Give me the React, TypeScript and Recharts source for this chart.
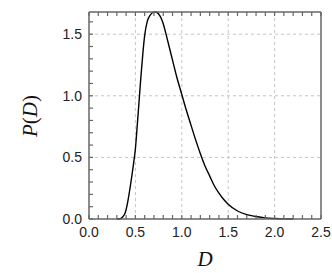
import { LineChart, Line, XAxis, YAxis, ReferenceLine } from 'recharts'

const dValues = [0.3, 0.33, 0.36, 0.39, 0.42, 0.45, 0.48, 0.5, 0.52, 0.54, 0.56, 0.58, 0.6, 0.63, 0.66, 0.69, 0.72, 0.75, 0.78, 0.8, 0.83, 0.87, 0.9, 0.95, 1.0, 1.05, 1.1, 1.15, 1.2, 1.25, 1.3, 1.35, 1.4, 1.45, 1.5, 1.6, 1.7, 1.8, 1.9, 2.0, 2.1, 2.2]
const pValues = [0, 0.002, 0.015, 0.05, 0.15, 0.29, 0.45, 0.57, 0.76, 0.96, 1.16, 1.34, 1.49, 1.61, 1.655, 1.677, 1.68, 1.664, 1.625, 1.585, 1.5, 1.38, 1.29, 1.14, 1.01, 0.88, 0.76, 0.64, 0.53, 0.43, 0.35, 0.27, 0.21, 0.16, 0.12, 0.065, 0.036, 0.02, 0.009, 0.004, 0.001, 0]

const xTicks = [0, 0.1, 0.2, 0.3, 0.4, 0.5, 0.6, 0.7, 0.8, 0.9, 1.0, 1.1, 1.2, 1.3, 1.4, 1.5, 1.6, 1.7, 1.8, 1.9, 2.0, 2.1, 2.2, 2.3, 2.4, 2.5]
const yTicks = [0, 0.1, 0.2, 0.3, 0.4, 0.5, 0.6, 0.7, 0.8, 0.9, 1.0, 1.1, 1.2, 1.3, 1.4, 1.5, 1.6]
const xGrid = [0.5, 1.0, 1.5, 2.0]
const yGrid = [0.5, 1.0, 1.5]

const data = dValues.map((d, i) => ({ d, p: pValues[i] }))

const FRAME = '#666'
const TICK_LEN = 4
const sans = '"Liberation Sans", Arial, sans-serif'
const serif = '"Liberation Serif", "Times New Roman", serif'

const isMajor = (v: number) => Math.abs(v * 2 - Math.round(v * 2)) < 1e-6

function BottomTick(props: any) {
  const { x, y, payload } = props
  const y0 = y - 8
  return (
    <g>
      <line x1={x} y1={y0} x2={x} y2={y0 - TICK_LEN} stroke={FRAME} strokeWidth={1.2} />
      {isMajor(payload.value) && (
        <text x={x} y={y} dy="0.71em" textAnchor="middle" fontSize={14} fontFamily={sans} fill="#222">
          {payload.value.toFixed(1)}
        </text>
      )}
    </g>
  )
}

function LeftTick(props: any) {
  const { x, y, payload } = props
  const x0 = x + 7
  return (
    <g>
      <line x1={x0} y1={y} x2={x0 + TICK_LEN} y2={y} stroke={FRAME} strokeWidth={1.2} />
      {isMajor(payload.value) && (
        <text x={x} y={y} dy="0.355em" textAnchor="end" fontSize={14} fontFamily={sans} fill="#222">
          {payload.value.toFixed(1)}
        </text>
      )}
    </g>
  )
}

function TopTick(props: any) {
  const { x, y } = props
  const y0 = y + 1
  return <line x1={x} y1={y0} x2={x} y2={y0 + TICK_LEN} stroke={FRAME} strokeWidth={1.2} />
}

function RightTick(props: any) {
  const { x, y } = props
  const x0 = x - 1
  return <line x1={x0} y1={y} x2={x0 - TICK_LEN} y2={y} stroke={FRAME} strokeWidth={1.2} />
}

const gridProps = { stroke: '#c4c4c4', strokeDasharray: '3 3', strokeWidth: 1 }

export default function App() {
  return (
    <div style={{ position: 'absolute', left: 0, top: 0 }}>
      <LineChart width={332} height={273} data={data} margin={{ top: 11, right: 10, bottom: 24, left: 0 }}>
        <XAxis
          xAxisId="bottom"
          dataKey="d"
          type="number"
          domain={[0, 2.5]}
          ticks={xTicks}
          interval={0}
          height={30}
          tickSize={0}
          tickMargin={8}
          tickLine={false}
          axisLine={{ stroke: FRAME, strokeWidth: 1.5 }}
          tick={<BottomTick />}
          label={() => (
            <text x={205} y={266} textAnchor="middle" fontSize={21} fontFamily={serif} fontStyle="italic" fill="#111">
              D
            </text>
          )}
        />
        <XAxis
          xAxisId="top"
          orientation="top"
          dataKey="d"
          type="number"
          domain={[0, 2.5]}
          ticks={xTicks}
          interval={0}
          height={1}
          tickSize={0}
          tickMargin={1}
          tickLine={false}
          axisLine={{ stroke: FRAME, strokeWidth: 1.5 }}
          tick={<TopTick />}
        />
        <YAxis
          yAxisId="left"
          type="number"
          domain={[0, 1.68]}
          ticks={yTicks}
          interval={0}
          width={89}
          tickSize={0}
          tickMargin={7}
          tickLine={false}
          axisLine={{ stroke: FRAME, strokeWidth: 1.5 }}
          tick={<LeftTick />}
          label={() => (
            <text
              x={37}
              y={116}
              textAnchor="middle"
              fontSize={21}
              fontFamily={serif}
              fill="#111"
              transform="rotate(-90, 37, 116)"
            >
              <tspan fontStyle="italic">P</tspan>
              <tspan>(</tspan>
              <tspan fontStyle="italic">D</tspan>
              <tspan>)</tspan>
            </text>
          )}
        />
        <YAxis
          yAxisId="right"
          orientation="right"
          type="number"
          domain={[0, 1.68]}
          ticks={yTicks}
          interval={0}
          width={1}
          tickSize={0}
          tickMargin={1}
          tickLine={false}
          axisLine={{ stroke: FRAME, strokeWidth: 1.5 }}
          tick={<RightTick />}
        />
        {xGrid.map(v => (
          <ReferenceLine key={'x' + v} x={v} xAxisId="bottom" yAxisId="left" {...gridProps} />
        ))}
        {yGrid.map(v => (
          <ReferenceLine key={'y' + v} y={v} xAxisId="bottom" yAxisId="left" {...gridProps} />
        ))}
        <Line
          xAxisId="bottom"
          yAxisId="left"
          type="monotone"
          dataKey="p"
          stroke="#000"
          strokeWidth={1.4}
          dot={false}
          isAnimationActive={false}
        />
      </LineChart>
    </div>
  )
}
